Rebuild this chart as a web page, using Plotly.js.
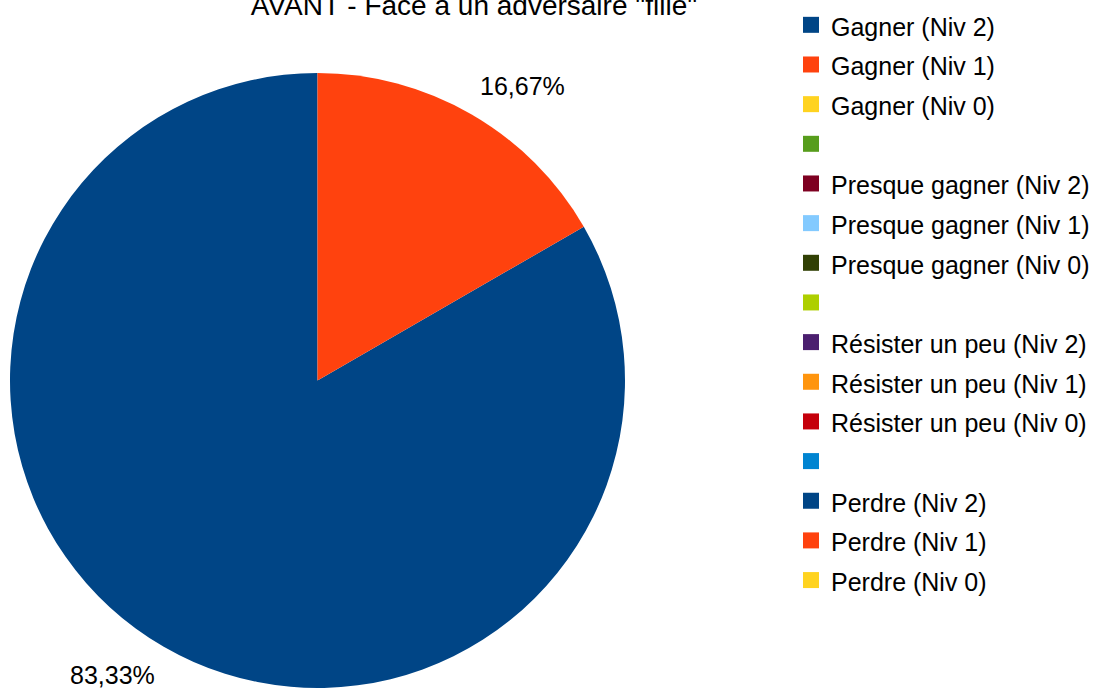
<!DOCTYPE html>
<html>
<head>
<meta charset="utf-8">
<script src="https://cdn.plot.ly/plotly-3.0.1.min.js"></script>
<style>html,body{margin:0;padding:0;background:#fff;}#chart{width:1098px;height:689px;}</style>
</head>
<body>
<div id="chart"></div>
<script>
// ---- data ----
const chartTitle = 'AVANT - Face à un adversaire "fille"';
const labels = [
  'Gagner (Niv 2)', 'Gagner (Niv 1)', 'Gagner (Niv 0)', '\u00a0',
  'Presque gagner (Niv 2)', 'Presque gagner (Niv 1)', 'Presque gagner (Niv 0)', '\u00a0\u00a0',
  'Résister un peu (Niv 2)', 'Résister un peu (Niv 1)', 'Résister un peu (Niv 0)', '\u00a0\u00a0\u00a0',
  'Perdre (Niv 2)', 'Perdre (Niv 1)', 'Perdre (Niv 0)'
];
const values = [5, 1, 0, 0, 0, 0, 0, 0, 0, 0, 0, 0, 0, 0, 0];
const colors = [
  '#004586', '#ff420e', '#ffd320', '#579d1c', '#7e0021', '#83caff', '#314004', '#aecf00',
  '#4b1f6f', '#ff950e', '#c5000b', '#0084d1', '#004586', '#ff420e', '#ffd320'
];

// ---- layout constants ----
const W = 1098, H = 689;
const cx = 317.5, cy = 380.5, R = 307.5;
const FONT = '"Liberation Sans", Arial, sans-serif';
const domX = [(cx - R) / W, (cx + R) / W];
const domY = [(H - cy - R) / H, (H - cy + R) / H];

const total = values.reduce((a, b) => a + b, 0);
function fmtPct(v) {
  return (v / total * 100).toFixed(2).replace('.', ',') + '%';
}

// percentage labels placed outside the slices (first slice starts at 12 o'clock, going counterclockwise)
const annotations = [];
let cum = 0;
values.forEach((v) => {
  if (v > 0) {
    const midFrac = (cum + v / 2) / total;
    const ang = Math.PI / 2 + midFrac * 2 * Math.PI;
    const rr = R * 1.05;
    const px = cx + rr * Math.cos(ang);
    const py = cy - rr * Math.sin(ang);
    annotations.push({
      x: px / W, y: (H - py) / H, xref: 'paper', yref: 'paper',
      text: fmtPct(v), showarrow: false, borderpad: 0,
      xanchor: Math.cos(ang) >= 0 ? 'left' : 'right',
      yanchor: Math.sin(ang) >= 0 ? 'bottom' : 'top',
      font: {family: FONT, size: 25, color: '#000'}
    });
  }
  cum += v;
});

// Plotly's counterclockwise pies end the first slice at the rotation angle;
// shift so the first slice starts at 12 o'clock instead.
const firstIdx = values.findIndex(v => v > 0);
const rot = 360 * values[firstIdx] / total;

const trace = {
  type: 'pie',
  labels: labels.map(l => '<span style="font-size:25px">' + l + '</span>'),
  values: values,
  marker: {colors: colors, line: {width: 0}},
  sort: false,
  direction: 'counterclockwise',
  rotation: -rot,
  textinfo: 'none',
  hoverinfo: 'none',
  domain: {x: domX, y: domY}
};

const layout = {
  width: W, height: H,
  margin: {l: 0, r: 0, t: 0, b: 0},
  paper_bgcolor: '#fff',
  font: {family: FONT, color: '#000'},
  title: {
    text: chartTitle, font: {family: FONT, size: 28, color: '#000'},
    xref: 'paper', x: 474 / W, xanchor: 'center',
    yref: 'container', y: (H - 15) / H, yanchor: 'bottom'
  },
  showlegend: true,
  legend: {
    x: 791 / W, xanchor: 'left', y: 1, yanchor: 'top',
    font: {family: FONT, size: 28.2, color: '#000'},
    bgcolor: 'rgba(0,0,0,0)'
  },
  annotations: annotations
};

Plotly.newPlot('chart', [trace], layout, {displayModeBar: false, staticPlot: true}).then(() => {
  document.querySelectorAll('#chart .legend .legendpoints path').forEach(p => {
    p.setAttribute('d', 'M8,8H-8V-8H8Z');
  });
});
</script>
</body>
</html>
